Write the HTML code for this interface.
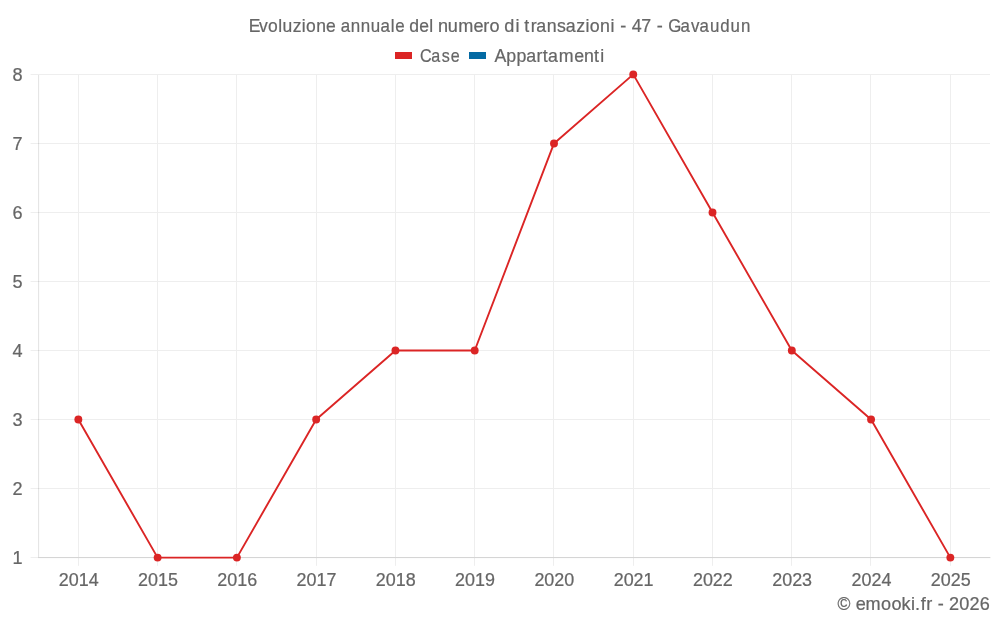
<!DOCTYPE html>
<html lang="it"><head><meta charset="utf-8"><title>Evoluzione annuale del numero di transazioni - 47 - Gavaudun</title>
<style>html,body{margin:0;padding:0;background:#fff}body{width:1000px;height:625px;overflow:hidden}svg{display:block;will-change:transform}text{font-family:"Liberation Sans",Arial,sans-serif;fill:#666;font-size:18.1px;stroke:#666;stroke-width:.22px}</style></head><body>
<svg width="1000" height="625" viewBox="0 0 1000 625">
<rect width="1000" height="625" fill="#fff"/>
<g fill="#eeeeee">
<rect x="30.6" y="557" width="959.40" height="1.05"/>
<rect x="30.6" y="488" width="959.40" height="1.05"/>
<rect x="30.6" y="419" width="959.40" height="1.05"/>
<rect x="30.6" y="350" width="959.40" height="1.05"/>
<rect x="30.6" y="281" width="959.40" height="1.05"/>
<rect x="30.6" y="212" width="959.40" height="1.05"/>
<rect x="30.6" y="143" width="959.40" height="1.05"/>
<rect x="30.6" y="74" width="959.40" height="1.05"/>
<rect x="78" y="75.00" width="1.05" height="490.80"/>
<rect x="157" y="75.00" width="1.05" height="490.80"/>
<rect x="236" y="75.00" width="1.05" height="490.80"/>
<rect x="316" y="75.00" width="1.05" height="490.80"/>
<rect x="395" y="75.00" width="1.05" height="490.80"/>
<rect x="474" y="75.00" width="1.05" height="490.80"/>
<rect x="553" y="75.00" width="1.05" height="490.80"/>
<rect x="633" y="75.00" width="1.05" height="490.80"/>
<rect x="712" y="75.00" width="1.05" height="490.80"/>
<rect x="791" y="75.00" width="1.05" height="490.80"/>
<rect x="870" y="75.00" width="1.05" height="490.80"/>
<rect x="950" y="75.00" width="1.05" height="490.80"/>
</g>
<g fill="#000" fill-opacity="0.1">
<rect x="38" y="75.00" width="1.15" height="482.00"/>
<rect x="38" y="557" width="952.60" height="1.15"/>
</g>
<polyline points="78.35,419.54 157.62,557.60 236.90,557.60 316.17,419.54 395.44,350.51 474.71,350.51 553.99,143.43 633.26,74.40 712.53,212.46 791.80,350.51 871.08,419.54 950.35,557.60" fill="none" stroke="#db2525" stroke-width="1.9" stroke-linejoin="round"/>
<g fill="#db2525">
<circle cx="78.35" cy="419.54" r="3.95"/>
<circle cx="157.62" cy="557.60" r="3.95"/>
<circle cx="236.90" cy="557.60" r="3.95"/>
<circle cx="316.17" cy="419.54" r="3.95"/>
<circle cx="395.44" cy="350.51" r="3.95"/>
<circle cx="474.71" cy="350.51" r="3.95"/>
<circle cx="553.99" cy="143.43" r="3.95"/>
<circle cx="633.26" cy="74.40" r="3.95"/>
<circle cx="712.53" cy="212.46" r="3.95"/>
<circle cx="791.80" cy="350.51" r="3.95"/>
<circle cx="871.08" cy="419.54" r="3.95"/>
<circle cx="950.35" cy="557.60" r="3.95"/>
</g>
<text transform="scale(0.9671,1)" x="257.23 267.78 277.15 287.77 292.18 302.65 311.93 316.49 326.97 337.14" y="31.80">Evoluzione</text>
<text transform="scale(0.9353,1)" x="364.35 375.01 385.76 396.51 406.77 417.85 422.58" y="31.80">annuale</text>
<text transform="scale(0.9703,1)" x="421.91 432.21 442.33" y="31.80">del</text>
<text transform="scale(1.0000,1)" x="437.90 447.79 458.20 473.53 483.35 489.59" y="31.80">numero</text>
<text transform="scale(1.0000,1)" x="504.34 515.60" y="31.80">di</text>
<text transform="scale(0.9844,1)" x="532.64 539.09 544.81 555.37 565.85 574.73 585.46 594.68 599.19 609.59 620.22" y="31.80">transazioni</text>
<text transform="scale(1.0000,1)" x="620.19" y="31.80">-</text>
<text transform="scale(0.9888,1)" x="638.92 648.58" y="31.80">47</text>
<text transform="scale(1.0000,1)" x="656.79" y="31.80">-</text>
<text transform="scale(0.9304,1)" x="718.37 731.53 742.59 751.88 763.12 774.11 785.19 796.37" y="31.80">Gavaudun</text>
<rect x="395" y="52" width="17" height="7" fill="#db2525"/>
<text transform="scale(0.8896,1)" x="472.10 484.92 496.51 506.81" y="61.60">Case</text>
<rect x="469" y="52" width="17" height="7" fill="#046aa3"/>
<text transform="scale(0.9822,1)" x="503.53 515.50 525.86 535.67 546.29 552.54 558.01 569.01 584.61 594.50 604.79 611.13" y="61.60">Appartamenti</text>
<text x="22.7" y="564.00" text-anchor="end">1</text>
<text x="22.7" y="495.00" text-anchor="end">2</text>
<text x="22.7" y="426.00" text-anchor="end">3</text>
<text x="22.7" y="357.00" text-anchor="end">4</text>
<text x="22.7" y="288.00" text-anchor="end">5</text>
<text x="22.7" y="219.00" text-anchor="end">6</text>
<text x="22.7" y="150.00" text-anchor="end">7</text>
<text x="22.7" y="81.00" text-anchor="end">8</text>
<text x="78.70" y="586.1" text-anchor="middle" textLength="39.9" lengthAdjust="spacingAndGlyphs">2014</text>
<text x="157.97" y="586.1" text-anchor="middle" textLength="39.9" lengthAdjust="spacingAndGlyphs">2015</text>
<text x="237.25" y="586.1" text-anchor="middle" textLength="39.9" lengthAdjust="spacingAndGlyphs">2016</text>
<text x="316.52" y="586.1" text-anchor="middle" textLength="39.9" lengthAdjust="spacingAndGlyphs">2017</text>
<text x="395.79" y="586.1" text-anchor="middle" textLength="39.9" lengthAdjust="spacingAndGlyphs">2018</text>
<text x="475.06" y="586.1" text-anchor="middle" textLength="39.9" lengthAdjust="spacingAndGlyphs">2019</text>
<text x="554.34" y="586.1" text-anchor="middle" textLength="39.9" lengthAdjust="spacingAndGlyphs">2020</text>
<text x="633.61" y="586.1" text-anchor="middle" textLength="39.9" lengthAdjust="spacingAndGlyphs">2021</text>
<text x="712.88" y="586.1" text-anchor="middle" textLength="39.9" lengthAdjust="spacingAndGlyphs">2022</text>
<text x="792.15" y="586.1" text-anchor="middle" textLength="39.9" lengthAdjust="spacingAndGlyphs">2023</text>
<text x="871.43" y="586.1" text-anchor="middle" textLength="39.9" lengthAdjust="spacingAndGlyphs">2024</text>
<text x="950.70" y="586.1" text-anchor="middle" textLength="39.9" lengthAdjust="spacingAndGlyphs">2025</text>
<text transform="scale(0.9703,1)" x="863.07" y="610.20">©</text>
<text transform="scale(1.0000,1)" x="855.63 865.52 881.10 891.40 901.62 910.93 914.88 920.64 926.27" y="610.20">emooki.fr</text>
<text transform="scale(1.0000,1)" x="937.64" y="610.20">-</text>
<text transform="scale(1.0000,1)" x="948.99 959.33 969.61 979.73" y="610.20">2026</text>
</svg></body></html>
